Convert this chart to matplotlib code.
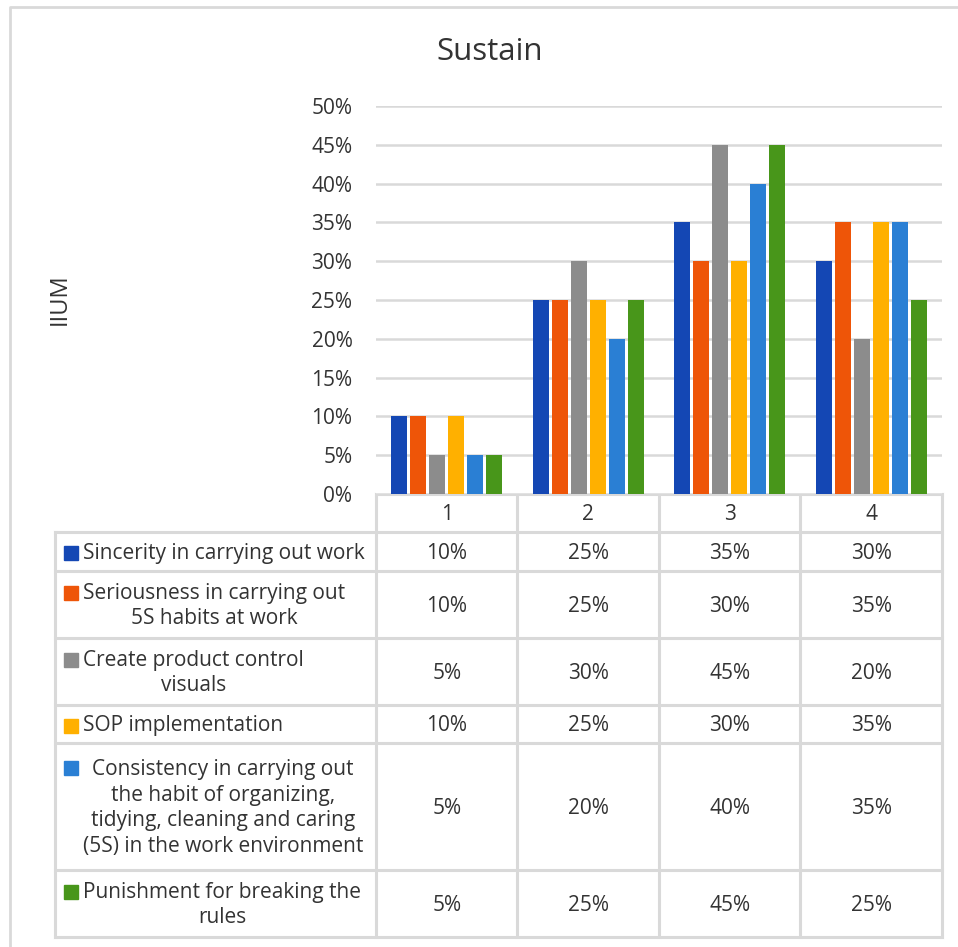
import numpy as np
import matplotlib
matplotlib.use("Agg")
import matplotlib.pyplot as plt
from matplotlib.patches import Rectangle
from matplotlib.ticker import PercentFormatter

plt.rcParams['font.family'] = ['Open Sans', 'DejaVu Sans']

categories = ["1", "2", "3", "4"]
series_labels = [
    "Sincerity in carrying out work",
    "Seriousness in carrying out\n5S habits at work",
    "Create product control\nvisuals",
    "SOP implementation",
    "Consistency in carrying out\nthe habit of organizing,\ntidying, cleaning and caring\n(5S) in the work environment",
    "Punishment for breaking the\nrules",
]
sincerity = [10, 25, 35, 30]
seriousness = [10, 25, 30, 35]
visuals = [5, 30, 45, 20]
sop = [10, 25, 30, 35]
consistency = [5, 20, 40, 35]
punishment = [5, 25, 45, 25]
series_values = [sincerity, seriousness, visuals, sop, consistency, punishment]
colors = ["#1447B4", "#EE5508", "#8C8C8C", "#FFB000", "#2A7FD4", "#48961A"]
y_ticks = [0, 5, 10, 15, 20, 25, 30, 35, 40, 45, 50]

W, H = 958, 947
GRID = "#D9D9D9"
TXT = "#333333"
FS = 15

fig = plt.figure(figsize=(W / 100, H / 100), dpi=100)

# pixel layout of the chart / table
x0, x1 = 376, 942
y_top, y_zero = 106, 494
ax = fig.add_axes([x0 / W, 1 - y_zero / H, (x1 - x0) / W, (y_zero - y_top) / H])

x = np.arange(1, len(categories) + 1)
step, width = 0.134, 0.113
for j, (vals, c) in enumerate(zip(series_values, colors)):
    ax.bar(x + (j - 2.5) * step, np.array(vals) / 100, width, color=c, zorder=3)

ax.set_xlim(0.5, len(categories) + 0.5)
ax.set_ylim(0, 0.5)
ax.set_yticks(np.array(y_ticks) / 100)
ax.yaxis.set_major_formatter(PercentFormatter(1.0, decimals=0))
ax.tick_params(axis="y", length=0, pad=17, labelsize=FS, labelcolor=TXT)
ax.set_xticks([])
ax.grid(axis="y", color=GRID, lw=1.8, zorder=0)
for s in ax.spines.values():
    s.set_visible(False)

# overlay in pixel coordinates for the data table, title and frame
ov = fig.add_axes([0, 0, 1, 1], zorder=-1)
ov.set_xlim(0, W)
ov.set_ylim(H, 0)
ov.axis("off")

ov.plot([10, 10, W], [H, 7, 7], color=GRID, lw=2)
ov.text(490, 52, "Sustain", fontsize=22.5, color=TXT, ha="center", va="center")
ov.text(60, 299, "IIUM", fontsize=17, color=TXT, ha="center", va="center", rotation=90)

cols = np.linspace(x0, x1, len(categories) + 1)
rows = [532, 571, 638, 705, 743, 870, 937]
tab_left = 55
lw = 2.2
ov.plot([x0, x1], [494, 494], color=GRID, lw=lw)
for yy in rows:
    ov.plot([tab_left, x1], [yy, yy], color=GRID, lw=lw)
for xx in cols:
    ov.plot([xx, xx], [494, rows[-1]], color=GRID, lw=lw)
ov.plot([tab_left, tab_left], [rows[0], rows[-1]], color=GRID, lw=lw)

for i, cat in enumerate(categories):
    ov.text((cols[i] + cols[i + 1]) / 2, 514, cat, fontsize=FS, color=TXT,
            ha="center", va="center")

line_px = 27
for r, (lab, vals, c) in enumerate(zip(series_labels, series_values, colors)):
    yc = (rows[r] + rows[r + 1]) / 2 + 1.5
    n = lab.count("\n") + 1
    ov.text(83, yc, lab, fontsize=FS, color=TXT, ha="left", va="center",
            multialignment="center", linespacing=1.3)
    ky = yc - (n - 1) / 2 * line_px
    ov.add_patch(Rectangle((64, ky - 7), 14, 14, color=c))
    for i, v in enumerate(vals):
        ov.text((cols[i] + cols[i + 1]) / 2, yc, f"{v}%", fontsize=FS,
                color=TXT, ha="center", va="center")

fig.savefig("out.png", dpi=100, facecolor="white")
